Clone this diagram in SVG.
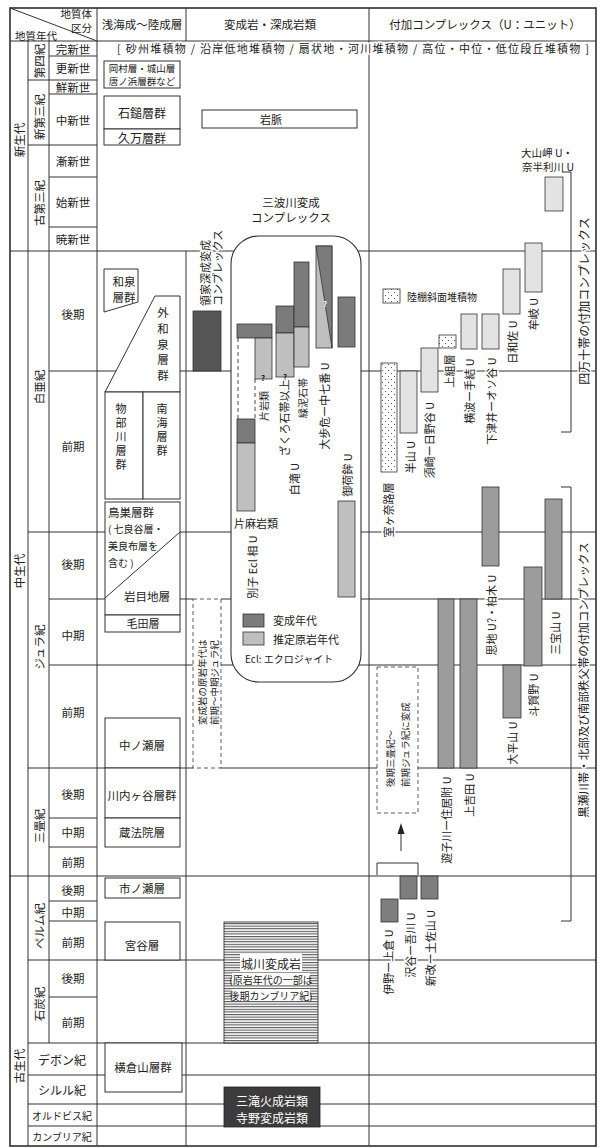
<svg xmlns="http://www.w3.org/2000/svg" width="605" height="1148" viewBox="0 0 605 1148">
<style>
text{font-family:"Noto Sans CJK JP","Noto Sans",sans-serif;fill:#222;dominant-baseline:central}
.ln{stroke:#333;stroke-width:1;fill:none}
.bx{fill:#fff;stroke:#333;stroke-width:1}
.c{text-anchor:middle}
.s{text-anchor:start}
.e{text-anchor:end}
.f12{font-size:12px}
.f115{font-size:11.5px}
.f11{font-size:11px}
.f105{font-size:10.5px}
.f10{font-size:10px}
.f9{font-size:9.5px}
.h{paint-order:stroke;stroke:#fff;stroke-width:3px;stroke-linejoin:round}
.md{fill:#7b7b7b;stroke:#333;stroke-width:0.8}
.ml{fill:#bfbfbf;stroke:#333;stroke-width:0.8}
.al{fill:#e3e3e3;stroke:#333;stroke-width:0.8}
.ag{fill:#9c9c9c;stroke:#333;stroke-width:0.8}
.ad{fill:#7e7e7e;stroke:#333;stroke-width:0.8}
.dot{fill:url(#dots);stroke:#333;stroke-width:0.8}
.dash{fill:#fff;stroke:#333;stroke-width:0.8;stroke-dasharray:4 3}
.q{font-size:8px;fill:#fff;font-weight:bold}
</style>
<defs>
<pattern id="dots" width="6" height="6" patternUnits="userSpaceOnUse"><rect width="6" height="6" fill="#fff"/><circle cx="1.5" cy="1.5" r="0.6" fill="#444"/><circle cx="4.5" cy="4.5" r="0.6" fill="#444"/></pattern>
<pattern id="hatch" width="4" height="2.6" patternUnits="userSpaceOnUse"><rect width="4" height="2.6" fill="#fff"/><line x1="0" y1="0.6" x2="4" y2="0.6" stroke="#333" stroke-width="0.9"/></pattern>
</defs>
<rect width="605" height="1148" fill="#fff"/>

<g id="grid">
<rect x="10" y="8" width="586" height="1138" fill="none" stroke="#222" stroke-width="1.5"/>
<line class="ln" x1="10" y1="41" x2="596" y2="41" stroke-width="1.5"/>
<line class="ln" x1="10" y1="8" x2="97" y2="41"/>
<line class="ln" x1="28" y1="41" x2="28" y2="1146"/>
<line class="ln" x1="49" y1="41" x2="49" y2="1043"/>
<line class="ln" x1="97" y1="8" x2="97" y2="1146" stroke-width="2"/>
<line class="ln" x1="186" y1="8" x2="186" y2="41"/>
<line class="ln" x1="186" y1="251" x2="186" y2="1146"/>
<line class="ln" x1="369" y1="8" x2="369" y2="1146"/>
<path class="ln" d="M49,56H97M28,80H97M49,94H97M28,145H97M49,177H97M49,227H97M10,251H596M49,371H596M28,532H596M49,599H193M221,599H596M49,665H193M221,665H596M28,768H193M221,768H377M418,768H596M49,818H97M49,847H97M10,876H596M49,901H97M49,921H97M28,960H596M49,997H97M28,1043H596M28,1075H596M28,1104H596M28,1126H596"/>
</g>

<g id="header">
<text class="f105 e" x="92" y="13.5">地質体</text>
<text class="f105 e" x="92" y="27">区分</text>
<text class="f105 s" x="15" y="35">地質年代</text>
<text class="f115 c" x="142" y="24">浅海成〜陸成層</text>
<text class="f115 c" x="270" y="24">変成岩・深成岩類</text>
<text class="f115 c" x="485" y="24">付加コンプレックス（U：ユニット）</text>
</g>

<g id="eras">
<text class="f115 c" transform="translate(19,140) rotate(-90)">新生代</text>
<text class="f115 c" transform="translate(19,571) rotate(-90)">中生代</text>
<text class="f115 c" transform="translate(19,1066) rotate(-90)">古生代</text>
</g>

<g id="periods">
<text class="f115 c" transform="translate(38.5,61) rotate(-90)">第四紀</text>
<text class="f115 c" transform="translate(38.5,117) rotate(-90)">新第三紀</text>
<text class="f115 c" transform="translate(38.5,203) rotate(-90)">古第三紀</text>
<text class="f115 c" transform="translate(38.5,387) rotate(-90)">白亜紀</text>
<text class="f115 c" transform="translate(38.5,647) rotate(-90)">ジュラ紀</text>
<text class="f115 c" transform="translate(38.5,826) rotate(-90)">三畳紀</text>
<text class="f115 c" transform="translate(38.5,926) rotate(-90)">ペルム紀</text>
<text class="f115 c" transform="translate(38.5,1004) rotate(-90)">石炭紀</text>
<text class="f12 c" x="62" y="1059">デボン紀</text>
<text class="f12 c" x="62" y="1089">シルル紀</text>
<text class="f10 c" x="62" y="1115">オルドビス紀</text>
<text class="f10 c" x="62" y="1136">カンブリア紀</text>
</g>

<g id="epochs">
<text class="f115 c" x="73" y="49">完新世</text>
<text class="f115 c" x="73" y="68">更新世</text>
<text class="f115 c" x="73" y="87">鮮新世</text>
<text class="f115 c" x="73" y="120">中新世</text>
<text class="f115 c" x="73" y="161">漸新世</text>
<text class="f115 c" x="73" y="202">始新世</text>
<text class="f115 c" x="73" y="239">暁新世</text>
<text class="f115 c" x="73" y="314">後期</text>
<text class="f115 c" x="73" y="446">前期</text>
<text class="f115 c" x="73" y="564">後期</text>
<text class="f115 c" x="73" y="635">中期</text>
<text class="f115 c" x="73" y="712">前期</text>
<text class="f115 c" x="73" y="794">後期</text>
<text class="f115 c" x="73" y="832">中期</text>
<text class="f115 c" x="73" y="862">前期</text>
<text class="f115 c" x="73" y="890">後期</text>
<text class="f115 c" x="73" y="912">中期</text>
<text class="f115 c" x="73" y="942">前期</text>
<text class="f115 c" x="73" y="978">後期</text>
<text class="f115 c" x="73" y="1022">前期</text>
</g>

<g id="quaternary-deposits">
<text class="f11 s h" x="117" y="48" textLength="472" lengthAdjust="spacing">[ 砂州堆積物 / 沿岸低地堆積物 / 扇状地・河川堆積物 / 高位・中位・低位段丘堆積物 ]</text>
</g>

<g id="shallow-marine">
<rect class="bx" x="104" y="61" width="76" height="27"/>
<text class="f9 c" x="142" y="68">岡村層・城山層</text>
<text class="f9 c" x="142" y="81">唐ノ浜層群など</text>
<rect class="bx" x="104" y="96" width="76" height="33"/>
<text class="f12 c" x="142" y="112">石鎚層群</text>
<rect class="bx" x="104" y="129" width="76" height="16"/>
<text class="f12 c" x="142" y="137">久万層群</text>
<polygon class="bx" points="104,269 138,269 138,302 104,312"/>
<text class="f115 c" x="124" y="281">和泉</text>
<text class="f115 c" x="124" y="297">層群</text>
<polygon class="bx" points="155,296 180,296 180,392 105,392"/>
<text class="f115 c"><tspan x="163" y="312">外</tspan><tspan x="163" y="328">和</tspan><tspan x="163" y="344">泉</tspan><tspan x="163" y="359">層</tspan><tspan x="163" y="375">群</tspan></text>
<rect class="bx" x="105" y="392" width="38" height="107"/>
<rect class="bx" x="143" y="392" width="37" height="107"/>
<text class="f11 c"><tspan x="121" y="408">物</tspan><tspan x="121" y="422">部</tspan><tspan x="121" y="436">川</tspan><tspan x="121" y="450">層</tspan><tspan x="121" y="464">群</tspan></text>
<text class="f11 c"><tspan x="162" y="408">南</tspan><tspan x="162" y="422">海</tspan><tspan x="162" y="436">層</tspan><tspan x="162" y="450">群</tspan></text>
<rect class="bx" x="105" y="502" width="75" height="113"/>
<line class="ln" x1="105" y1="598" x2="180" y2="532"/>
<text class="f115 s" x="108" y="512">鳥巣層群</text>
<text class="f10 s" x="108" y="528">( 七良谷層・</text>
<text class="f10 s" x="108" y="545">美良布層を</text>
<text class="f10 s" x="108" y="562">含む )</text>
<text class="f115 c" x="147" y="596">岩目地層</text>
<rect class="bx" x="105" y="615" width="75" height="17"/>
<text class="f11 c" x="143" y="623">毛田層</text>
<rect class="bx" x="105" y="718" width="75" height="50"/>
<text class="f115 c" x="142" y="745">中ノ瀬層</text>
<rect class="bx" x="105" y="768" width="75" height="50"/>
<text class="f115 c" x="142" y="795">川内ヶ谷層群</text>
<rect class="bx" x="105" y="818" width="75" height="29"/>
<text class="f115 c" x="142" y="832">蔵法院層</text>
<rect class="bx" x="105" y="878" width="75" height="20"/>
<text class="f115 c" x="142" y="888">市ノ瀬層</text>
<rect class="bx" x="105" y="922" width="75" height="38"/>
<text class="f115 c" x="142" y="945">宮谷層</text>
<rect class="bx" x="105" y="1043" width="77" height="49"/>
<text class="f115 c" x="143" y="1067">横倉山層群</text>
</g>

<g id="dike">
<rect class="bx" x="202" y="110" width="155" height="18"/>
<text class="f11 c" x="271" y="119">岩脈</text>
</g>

<g id="ryoke">
<text class="f11 s h" transform="translate(205,306) rotate(-90)">領家深成変成</text>
<text class="f11 s h" transform="translate(217,306) rotate(-90)">コンプレックス</text>
<rect x="193" y="311" width="28" height="60" fill="#555" stroke="#333" stroke-width="0.8"/>
</g>

<g id="sanbagawa">
<text class="f115 c" x="291" y="202">三波川変成</text>
<text class="f115 c" x="291" y="217">コンプレックス</text>
<rect x="231" y="236" width="130" height="446" rx="28" ry="28" fill="#fff" stroke="#333" stroke-width="1.1"/>
<path d="M238,338V419M255,379V419" fill="none" stroke="#333" stroke-width="0.9" stroke-dasharray="4 3"/>
<rect class="md" x="237" y="324" width="35" height="14"/>
<rect class="ml" x="255" y="338" width="17" height="41"/>
<text class="q" x="263" y="377" text-anchor="middle" style="fill:#222">?</text>
<text class="f10 c h" transform="translate(263,406) rotate(-90)">片岩類</text>
<rect class="md" x="237" y="419" width="18" height="24"/>
<rect class="ml" x="237" y="443" width="18" height="68"/>
<text class="f11 c" x="256" y="523">片麻岩類</text>
<rect class="md" x="276" y="306" width="18" height="27"/>
<rect class="ml" x="276" y="333" width="18" height="44"/>
<text class="q" x="285" y="376" text-anchor="middle" style="fill:#222">?</text>
<text class="f11 c h" transform="translate(284,418) rotate(-90)">ざくろ石帯以上</text>
<rect class="md" x="294" y="262" width="15" height="65"/>
<rect class="ml" x="294" y="327" width="15" height="40"/>
<text class="f10 c h" transform="translate(302,398) rotate(-90)">緑泥石帯</text>
<text class="f11 c h" transform="translate(294,479) rotate(-90)">白滝 U</text>
<rect class="ml" x="316" y="246" width="16" height="102"/>
<polygon points="316,246 332,246 332,348" fill="#7b7b7b" stroke="#333" stroke-width="0.8"/>
<text class="q" x="325" y="303" text-anchor="middle">?</text>
<text class="f11 c h" transform="translate(324,406) rotate(-90)">大歩危ー中七番 U</text>
<rect class="md" x="338" y="297" width="17" height="50"/>
<text class="f11 c h" transform="translate(347,475) rotate(-90)">御荷鉾 U</text>
<rect class="ml" x="338" y="501" width="17" height="96"/>
<text class="f11 c h" transform="translate(252,567) rotate(-90)">別子 Ecl 相 U</text>
<rect class="md" x="243" y="614" width="21" height="13"/>
<text class="f11 s" x="273" y="620">変成年代</text>
<rect class="ml" x="243" y="632" width="21" height="13"/>
<text class="f11 s" x="273" y="639">推定原岩年代</text>
<text class="f10 s" x="245" y="658">Ecl: エクロジャイト</text>
</g>

<g id="protolith-note">
<rect class="dash" x="193" y="599" width="28" height="169"/>
<text class="f9 s" transform="translate(202,725) rotate(-90)">変成岩の原岩年代は</text>
<text class="f9 s" transform="translate(214,725) rotate(-90)">前期〜中期ジュラ紀</text>
</g>

<g id="shirokawa">
<rect x="224" y="922" width="94" height="121" fill="url(#hatch)" stroke="#333" stroke-width="0.9"/>
<rect x="240" y="954" width="62" height="18" fill="#fff"/>
<rect x="232" y="973" width="78" height="12" fill="#fff"/>
<rect x="232" y="989" width="78" height="12" fill="#fff"/>
<text class="f12 c" x="271" y="963">城川変成岩</text>
<text class="f10 c" x="271" y="979">(原岩年代の一部は</text>
<text class="f10 c" x="271" y="995">後期カンブリア紀)</text>
</g>

<g id="mitaki">
<rect x="224" y="1087" width="96" height="40" fill="#3c3c3c" stroke="#222" stroke-width="0.8"/>
<text class="f12 c" x="272" y="1100" style="fill:#fff">三滝火成岩類</text>
<text class="f12 c" x="272" y="1117" style="fill:#fff">寺野変成岩類</text>
</g>

<g id="shimanto">
<text class="f105 c" x="547" y="152">大山岬 U・</text>
<text class="f105 c" x="548" y="166">奈半利川 U</text>
<rect class="al" x="545" y="177" width="18" height="34"/>
<rect class="dot" x="383" y="289" width="17" height="14"/>
<text class="f10 s" x="407" y="296">陸棚斜面堆積物</text>
<rect class="dot" x="381" y="363" width="16" height="109"/>
<text class="f11 c h" transform="translate(388,510) rotate(-90)">室ヶ奈路層</text>
<rect class="al" x="400" y="371" width="17" height="62"/>
<text class="f11 c h" transform="translate(410,457) rotate(-90)">半山 U</text>
<rect class="al" x="421" y="348" width="17" height="44"/>
<text class="f11 c h" transform="translate(429,440) rotate(-90)">須崎ー日野谷 U</text>
<rect class="dot" x="439" y="335" width="17" height="13"/>
<text class="f11 c h" transform="translate(449,371) rotate(-90)">上組層</text>
<rect class="al" x="461" y="314" width="16" height="35"/>
<text class="f11 c h" transform="translate(469,391) rotate(-90)">横波ー手結 U</text>
<rect class="al" x="482" y="314" width="17" height="35"/>
<text class="f11 c h" transform="translate(491,401) rotate(-90)">下津井ーオソ谷 U</text>
<rect class="al" x="503" y="269" width="17" height="45"/>
<text class="f11 c h" transform="translate(512,342) rotate(-90)">日和佐 U</text>
<rect class="al" x="525" y="243" width="17" height="49"/>
<text class="f11 c h" transform="translate(533,314) rotate(-90)">牟岐 U</text>
<path class="ln" d="M562,172H571V432H561"/>
<text class="f12 c h" transform="translate(583,301) rotate(-90)">四万十帯の付加コンプレックス</text>
</g>

<g id="chichibu">
<rect class="ag" x="482" y="487" width="17" height="79"/>
<text class="f11 c h" transform="translate(491,615) rotate(-90)">思地 U?・柏木 U</text>
<rect class="ag" x="545" y="499" width="17" height="100"/>
<text class="f11 c h" transform="translate(555,633) rotate(-90)">三宝山 U</text>
<rect class="ag" x="524" y="567" width="18" height="99"/>
<text class="f11 c h" transform="translate(533,695) rotate(-90)">斗賀野 U</text>
<rect class="ag" x="503" y="665" width="18" height="53"/>
<text class="f11 c h" transform="translate(512,743) rotate(-90)">大平山 U</text>
<rect class="ag" x="438" y="599" width="16" height="169"/>
<text class="f11 c h" transform="translate(446,820) rotate(-90)">遊子川ー住居附 U</text>
<rect class="ag" x="460" y="599" width="17" height="169"/>
<text class="f11 c h" transform="translate(469,795) rotate(-90)">上吉田 U</text>
<rect class="dash" x="377" y="667" width="41" height="146"/>
<text class="f9 s" transform="translate(390,787) rotate(-90)">後期三畳紀〜</text>
<text class="f9 s" transform="translate(405,787) rotate(-90)">前期ジュラ紀に変成</text>
<rect class="ad" x="381" y="899" width="17" height="23"/>
<text class="f11 c h" transform="translate(388,962) rotate(-90)">伊野ー上倉 U</text>
<rect class="ad" x="400" y="876" width="17" height="23"/>
<text class="f11 c h" transform="translate(410,945) rotate(-90)">沢谷ー吾川 U</text>
<rect class="ad" x="421" y="876" width="17" height="23"/>
<text class="f11 c h" transform="translate(430,948) rotate(-90)">新改ー土佐山 U</text>
<path class="ln" d="M561,487H571V921H561"/>
<text class="f115 c h" transform="translate(583,680) rotate(-90)">黒瀬川帯・北部及び南部秩父帯の付加コンプレックス</text>
</g>

<g id="connectors">
<path class="ln" d="M377,875V863H418V875"/>
<line class="ln" x1="401" y1="851" x2="401" y2="832"/>
<polygon points="401,823 397.5,834 404.5,834" fill="#222"/>
</g>
</svg>
